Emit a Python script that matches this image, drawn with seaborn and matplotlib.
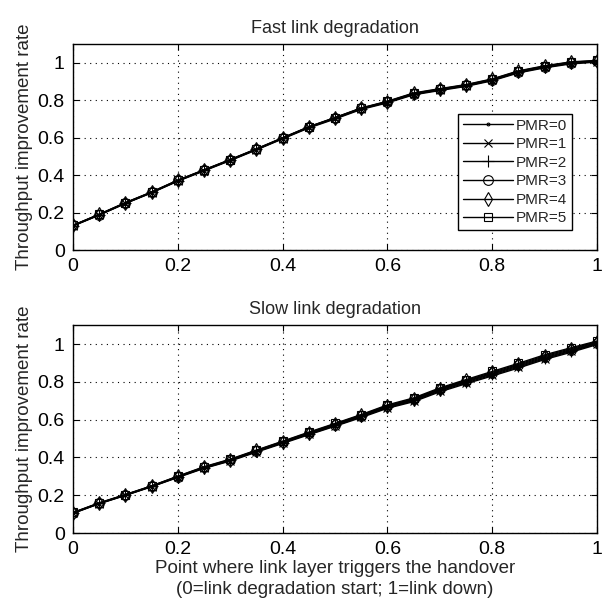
import matplotlib
matplotlib.use("Agg")
import matplotlib.pyplot as plt
import seaborn as sns
import pandas as pd

x_vals = [0.0, 0.05, 0.1, 0.15, 0.2, 0.25, 0.3, 0.35, 0.4, 0.45, 0.5,
          0.55, 0.6, 0.65, 0.7, 0.75, 0.8, 0.85, 0.9, 0.95, 1.0]

labels = ["PMR=0", "PMR=1", "PMR=2", "PMR=3", "PMR=4", "PMR=5"]

fast_pmr0 = [0.128, 0.186, 0.248, 0.305, 0.367, 0.422, 0.477, 0.534, 0.593, 0.651, 0.699, 0.750, 0.785, 0.828, 0.851, 0.873, 0.903, 0.945, 0.972, 0.993, 1.003]
fast_pmr1 = [0.129, 0.187, 0.249, 0.306, 0.369, 0.424, 0.479, 0.536, 0.595, 0.654, 0.702, 0.753, 0.788, 0.831, 0.854, 0.876, 0.906, 0.948, 0.975, 0.996, 1.005]
fast_pmr2 = [0.130, 0.188, 0.250, 0.307, 0.370, 0.425, 0.480, 0.537, 0.596, 0.655, 0.703, 0.754, 0.789, 0.832, 0.855, 0.877, 0.907, 0.950, 0.977, 0.998, 1.007]
fast_pmr3 = [0.131, 0.189, 0.251, 0.308, 0.371, 0.426, 0.481, 0.538, 0.597, 0.656, 0.705, 0.756, 0.791, 0.834, 0.857, 0.879, 0.909, 0.952, 0.979, 1.000, 1.009]
fast_pmr4 = [0.131, 0.190, 0.252, 0.309, 0.372, 0.427, 0.482, 0.539, 0.598, 0.657, 0.706, 0.757, 0.792, 0.836, 0.859, 0.881, 0.911, 0.954, 0.981, 1.002, 1.010]
fast_pmr5 = [0.132, 0.191, 0.253, 0.310, 0.373, 0.428, 0.483, 0.540, 0.599, 0.658, 0.707, 0.758, 0.794, 0.838, 0.861, 0.883, 0.913, 0.956, 0.983, 1.004, 1.012]

slow_pmr0 = [0.104, 0.155, 0.199, 0.245, 0.294, 0.342, 0.381, 0.428, 0.474, 0.520, 0.565, 0.611, 0.660, 0.695, 0.747, 0.790, 0.831, 0.873, 0.918, 0.956, 0.997]
slow_pmr1 = [0.105, 0.156, 0.200, 0.246, 0.296, 0.344, 0.383, 0.431, 0.477, 0.523, 0.568, 0.615, 0.664, 0.699, 0.752, 0.795, 0.836, 0.878, 0.923, 0.961, 1.001]
slow_pmr2 = [0.106, 0.157, 0.201, 0.247, 0.297, 0.346, 0.385, 0.433, 0.479, 0.526, 0.571, 0.618, 0.668, 0.703, 0.756, 0.800, 0.841, 0.883, 0.928, 0.965, 1.004]
slow_pmr3 = [0.107, 0.158, 0.202, 0.248, 0.298, 0.347, 0.387, 0.435, 0.481, 0.528, 0.574, 0.621, 0.671, 0.707, 0.760, 0.804, 0.845, 0.888, 0.933, 0.970, 1.008]
slow_pmr4 = [0.108, 0.159, 0.203, 0.249, 0.300, 0.349, 0.389, 0.437, 0.484, 0.531, 0.577, 0.624, 0.674, 0.711, 0.764, 0.808, 0.850, 0.893, 0.938, 0.975, 1.012]
slow_pmr5 = [0.109, 0.160, 0.204, 0.250, 0.301, 0.351, 0.391, 0.439, 0.486, 0.534, 0.580, 0.627, 0.678, 0.715, 0.768, 0.812, 0.855, 0.898, 0.943, 0.980, 1.016]

fast_series = [fast_pmr0, fast_pmr1, fast_pmr2, fast_pmr3, fast_pmr4, fast_pmr5]
slow_series = [slow_pmr0, slow_pmr1, slow_pmr2, slow_pmr3, slow_pmr4, slow_pmr5]

x_ticks = [0, 0.2, 0.4, 0.6, 0.8, 1]
x_ticklabels = ["0", "0.2", "0.4", "0.6", "0.8", "1"]
y_ticks = [0, 0.2, 0.4, 0.6, 0.8, 1]
y_ticklabels = ["0", "0.2", "0.4", "0.6", "0.8", "1"]

markers = [".", "x", "+", "o", "d", "s"]
msizes = [4, 6, 8, 7, 7, 6]

sns.set_theme(style="white")
plt.rcParams["font.family"] = ["Liberation Sans", "DejaVu Sans"]
plt.rcParams["xtick.direction"] = "in"
plt.rcParams["ytick.direction"] = "in"

fig = plt.figure(figsize=(6.03, 6.01), dpi=100)
ax1 = fig.add_axes([0.121, 0.584, 0.869, 0.343])
ax2 = fig.add_axes([0.121, 0.113, 0.869, 0.346])


def draw(ax, series, title, show_legend):
    for lab, vals, mk, ms in zip(labels, series, markers, msizes):
        df = pd.DataFrame({"x": x_vals, "y": vals})
        sns.lineplot(data=df, x="x", y="y", ax=ax, color="black",
                     linewidth=1.0, marker=mk, markersize=ms,
                     markeredgecolor="black", markerfacecolor="none",
                     markeredgewidth=0.8,
                     label=lab if show_legend else None, legend=False)
    ax.set_xlim(0, 1)
    ax.set_ylim(0, 1.1)
    ax.set_xticks(x_ticks)
    ax.set_xticklabels(x_ticklabels)
    ax.set_yticks(y_ticks)
    ax.set_yticklabels(y_ticklabels)
    ax.tick_params(labelsize=14, length=4, width=0.8, colors="black",
                   top=True, right=True, bottom=True, left=True, pad=6)
    ax.grid(True, linestyle=(0, (1, 4)), color="black", linewidth=0.8)
    for sp in ax.spines.values():
        sp.set_color("black")
        sp.set_linewidth(1.0)
    ax.set_title(title, fontsize=13, pad=8)
    ax.set_ylabel("Throughput improvement rate", fontsize=13.5, labelpad=3)
    ax.set_xlabel("")
    if show_legend:
        leg = ax.legend(loc="lower right", bbox_to_anchor=(0.952, 0.097),
                        borderaxespad=0, fontsize=11, frameon=True,
                        fancybox=False, edgecolor="black", framealpha=1,
                        handlelength=3.3, handletextpad=0.2,
                        labelspacing=0.3, borderpad=0.3)
        leg.get_frame().set_linewidth(1.0)


draw(ax1, fast_series, "Fast link degradation", True)
draw(ax2, slow_series, "Slow link degradation", False)
ax2.set_xlabel("Point where link layer triggers the handover\n(0=link degradation start; 1=link down)",
               fontsize=13.5, labelpad=1, linespacing=1.3)

fig.savefig("out.png", dpi=100)
